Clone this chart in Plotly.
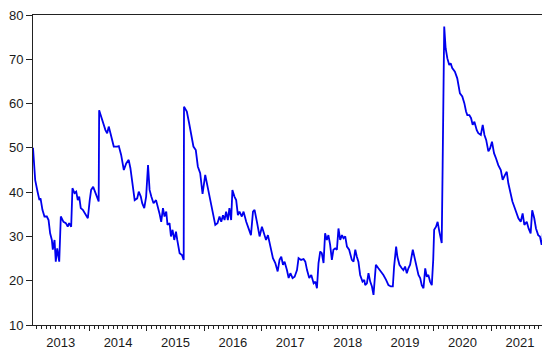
import plotly.graph_objects as go

# values (approximate)
dates = [
    "2013-01-07", "2013-01-21", "2013-02-05", "2013-02-17", "2013-02-24", "2013-03-08",
    "2013-03-21", "2013-04-05", "2013-04-16", "2013-04-26", "2013-05-07", "2013-05-13",
    "2013-05-24", "2013-06-01", "2013-06-10", "2013-06-23", "2013-07-03", "2013-07-20",
    "2013-08-04", "2013-08-16", "2013-08-25", "2013-09-07", "2013-09-15", "2013-09-28",
    "2013-10-09", "2013-10-19", "2013-10-28", "2013-11-07", "2013-11-20", "2013-12-05",
    "2013-12-22",
    "2014-01-03", "2014-01-12", "2014-01-25", "2014-02-06", "2014-02-19", "2014-03-01",
    "2014-03-04", "2014-03-23", "2014-04-13", "2014-04-24", "2014-05-04", "2014-05-15",
    "2014-06-05", "2014-06-27", "2014-07-07", "2014-07-22", "2014-08-08", "2014-08-23",
    "2014-09-08", "2014-09-19", "2014-10-04", "2014-10-16", "2014-11-01", "2014-11-11",
    "2014-11-24", "2014-12-03", "2014-12-16", "2014-12-28",
    "2015-01-09", "2015-01-19", "2015-01-30", "2015-02-13", "2015-03-01", "2015-03-13",
    "2015-03-23", "2015-04-03", "2015-04-14", "2015-04-24", "2015-05-05", "2015-05-13",
    "2015-05-26", "2015-06-04", "2015-06-14", "2015-06-25", "2015-07-06", "2015-07-14",
    "2015-07-29", "2015-08-13", "2015-08-24", "2015-08-26", "2015-09-13", "2015-09-28",
    "2015-10-15", "2015-10-25", "2015-11-09", "2015-11-22", "2015-12-07", "2015-12-22",
    "2016-01-08", "2016-01-23", "2016-02-09", "2016-02-26", "2016-03-12", "2016-03-26",
    "2016-04-08", "2016-04-19", "2016-04-30", "2016-05-10", "2016-05-20", "2016-05-31",
    "2016-06-10", "2016-06-21", "2016-06-29", "2016-07-12", "2016-07-23", "2016-08-03",
    "2016-08-13", "2016-08-28", "2016-09-08", "2016-09-25", "2016-10-09", "2016-10-25",
    "2016-11-07", "2016-11-17", "2016-12-02", "2016-12-19",
    "2017-01-03", "2017-01-13", "2017-01-29", "2017-02-10", "2017-02-21", "2017-03-03",
    "2017-03-14", "2017-03-29", "2017-04-13", "2017-04-25", "2017-05-06", "2017-05-17",
    "2017-05-27", "2017-06-11", "2017-06-22", "2017-07-03", "2017-07-17", "2017-07-30",
    "2017-08-14", "2017-08-24", "2017-09-09", "2017-09-25", "2017-10-06", "2017-10-17",
    "2017-10-31", "2017-11-13", "2017-11-28", "2017-12-09", "2017-12-19", "2017-12-29",
    "2018-01-09", "2018-01-19", "2018-01-30", "2018-02-09", "2018-02-20", "2018-03-02",
    "2018-03-13", "2018-03-24", "2018-04-03", "2018-04-14", "2018-04-25", "2018-05-05",
    "2018-05-16", "2018-05-27", "2018-06-06", "2018-06-17", "2018-06-28", "2018-07-12",
    "2018-07-29", "2018-08-09", "2018-08-20", "2018-08-30", "2018-09-09", "2018-09-20",
    "2018-10-05", "2018-10-16", "2018-10-22", "2018-11-02", "2018-11-12", "2018-11-23",
    "2018-12-04", "2018-12-14", "2018-12-29",
    "2019-01-14", "2019-01-29", "2019-02-15", "2019-03-04", "2019-03-19", "2019-04-03",
    "2019-04-16", "2019-04-24", "2019-05-07", "2019-05-15", "2019-05-28", "2019-06-12",
    "2019-06-22", "2019-07-03", "2019-07-14", "2019-07-24", "2019-08-04", "2019-08-21",
    "2019-08-31", "2019-09-11", "2019-09-26", "2019-10-07", "2019-10-17", "2019-10-28",
    "2019-11-08", "2019-11-18", "2019-11-28", "2019-12-09", "2019-12-20", "2019-12-29",
    "2020-01-04", "2020-01-16", "2020-01-26", "2020-02-06", "2020-02-16", "2020-02-21",
    "2020-02-27", "2020-03-02", "2020-03-08", "2020-03-17", "2020-03-28", "2020-04-09",
    "2020-04-18", "2020-04-28", "2020-05-15", "2020-05-30", "2020-06-16", "2020-07-01",
    "2020-07-14", "2020-07-25", "2020-08-02", "2020-08-15", "2020-08-26", "2020-09-05",
    "2020-09-16", "2020-10-01", "2020-10-11", "2020-10-27", "2020-11-08", "2020-11-19",
    "2020-11-30", "2020-12-14", "2020-12-25",
    "2021-01-06", "2021-01-19", "2021-02-01", "2021-02-15", "2021-03-03", "2021-03-15",
    "2021-03-30", "2021-04-10", "2021-04-20", "2021-05-01", "2021-05-16", "2021-05-28",
    "2021-06-13", "2021-06-23", "2021-07-08", "2021-07-20", "2021-07-31", "2021-08-15",
    "2021-08-27", "2021-09-09", "2021-09-19", "2021-10-02", "2021-10-13", "2021-10-27",
    "2021-11-07", "2021-11-18", "2021-11-24", "2021-11-30",
]

values = [
    50.0, 42.7, 40.1, 38.2, 38.6, 36.0,
    34.5, 34.5, 33.7, 30.7, 29.2, 27.0,
    29.2, 24.3, 27.3, 24.3, 34.5, 33.3,
    33.0, 32.2, 33.0, 32.2, 40.9, 39.8,
    40.1, 38.2, 39.0, 36.4, 36.0, 35.2,
    34.1,
    38.2, 40.5, 41.2, 40.1, 39.0, 37.9,
    58.5, 56.3, 54.0, 53.3, 54.8, 53.3,
    50.3, 50.3, 50.4, 48.4, 45.0, 46.5,
    47.3, 45.4, 41.2, 38.2, 38.6, 40.1,
    39.0, 37.5, 36.4, 39.0,
    46.1, 40.5, 39.0, 37.5, 38.2, 36.7,
    35.2, 33.3, 36.4, 34.5, 35.6, 32.6,
    33.0, 30.0, 31.5, 29.2, 31.1, 29.2,
    26.2, 25.8, 24.7, 59.3, 58.2, 55.5,
    52.5, 50.3, 49.5, 45.8, 44.3, 39.6,
    43.9, 41.2, 37.5, 35.2, 32.6, 33.0,
    34.5, 33.3, 34.8, 33.7, 35.6, 33.7,
    36.4, 33.7, 40.5, 39.0, 38.2, 34.8,
    35.6, 34.5, 35.6, 33.3, 31.8, 30.3,
    35.6, 36.0, 33.3, 30.0,
    32.2, 31.1, 29.2, 30.3, 28.5, 27.0,
    25.1, 24.0, 22.1, 24.7, 25.4, 23.6,
    24.3, 22.4, 20.6, 21.7, 20.6, 20.9,
    22.4, 25.1, 24.7, 24.9, 24.3, 22.4,
    20.6, 21.3, 19.4, 19.8, 18.3, 24.0,
    26.6, 26.2, 24.0, 30.7, 29.2, 30.3,
    28.1, 24.7, 27.0, 27.3, 27.0, 31.8,
    29.2, 30.3, 29.6, 30.0, 27.7, 27.0,
    24.7, 24.3, 27.0, 25.4, 24.3, 21.3,
    19.8, 20.2, 19.0, 19.4, 21.7, 19.8,
    18.7, 16.8, 23.6,
    22.8, 22.1, 21.3, 20.2, 19.0, 18.7,
    18.7, 23.2, 27.7, 25.4, 23.6, 22.8,
    22.4, 23.2, 21.7, 22.8, 23.6, 27.0,
    25.4, 23.2, 21.3, 20.6, 19.0, 18.3,
    22.8, 20.9, 21.3, 19.8, 19.0, 24.7,
    31.5, 32.2, 33.3, 31.1, 28.8, 28.5,
    46.1, 61.2, 77.4, 72.5, 70.2, 68.7,
    69.1, 68.0, 67.2, 65.7, 62.3, 61.6,
    60.1, 58.2, 57.4, 57.4, 56.7, 55.2,
    55.9, 54.0, 53.3, 52.9, 55.2, 52.9,
    51.8, 49.2, 49.9,
    51.4, 48.8, 47.6, 46.1, 45.0, 42.8,
    43.9, 44.6, 42.0, 40.1, 37.9, 36.7,
    34.8, 34.1, 33.3, 35.2, 32.6, 33.3,
    31.8, 30.7, 35.9, 34.1, 31.8, 30.3,
    30.0, 28.1, 29.6, 33.7,
]

fig = go.Figure()
fig.add_trace(go.Scatter(
    x=dates, y=values, mode="lines",
    line=dict(color="#0000ee", width=1.8),
    showlegend=False,
))

axis_font = dict(family="Liberation Sans, Arial, sans-serif", size=13, color="#1a1a1a")

# the page body adds an 8px offset, so the figure is a bit smaller than the window
fig.update_layout(
    width=542, height=345,
    margin=dict(l=25, r=6, t=7, b=28, autoexpand=False),
    paper_bgcolor="white", plot_bgcolor="white",
    font=axis_font,
    xaxis=dict(
        type="date", automargin=False, ticklabeloverflow="allow",
        range=["2013-01-07", "2021-12-03"],
        tick0="2013-01-01", dtick="M12",
        tickformat="%Y", ticklabelmode="period",
        ticks="outside", ticklen=5, tickcolor="#222", tickwidth=1,
        minor=dict(dtick="M1", ticks="outside", ticklen=3, tickcolor="#222", showgrid=False),
        showgrid=False, zeroline=False,
        showline=True, linecolor="#222", linewidth=1, mirror=True,
    ),
    yaxis=dict(
        automargin=False, ticklabeloverflow="allow",
        range=[10, 80], dtick=10,
        ticks="outside", ticklen=6, tickcolor="#222",
        showgrid=False, zeroline=False,
        showline=True, linecolor="#222", linewidth=1,
    ),
    shapes=[dict(type="line", xref="paper", yref="paper", x0=1, x1=1, y0=0, y1=1,
                 line=dict(color="#888", width=1))],
)

fig.write_html("out.html")
